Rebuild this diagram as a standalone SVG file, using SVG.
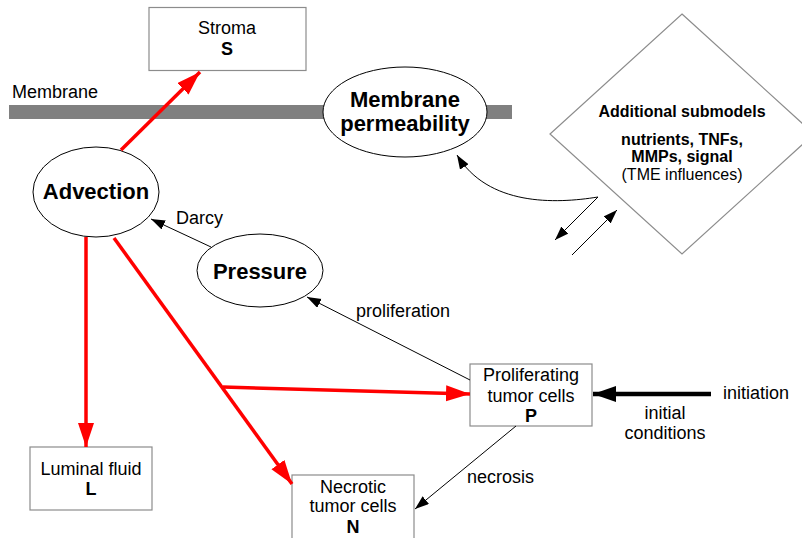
<svg xmlns="http://www.w3.org/2000/svg" width="802" height="538" viewBox="0 0 802 538">
<style>
text{font-family:"Liberation Sans",Arial,sans-serif;fill:#000}
.t{font-size:18px}
.b{font-weight:bold}
.big{font-size:22px;font-weight:bold}
.box{fill:#fff;stroke:#8c8c8c;stroke-width:1.2}
.ell{fill:#fff;stroke:#000;stroke-width:1}
.red{stroke:#ff0000;stroke-width:3.5;fill:none}
.thin{stroke:#000;stroke-width:1;fill:none}
</style>
<defs>
<marker id="ar" markerUnits="userSpaceOnUse" markerWidth="26" markerHeight="18" refX="24" refY="8" orient="auto">
<path d="M0,0 L24,8 L0,16 z" fill="#ff0000"/>
</marker>
<marker id="ab" markerUnits="userSpaceOnUse" markerWidth="26" markerHeight="18" refX="23" refY="8" orient="auto">
<path d="M0,0 L23,8 L0,16 z" fill="#000"/>
</marker>
<marker id="as" markerUnits="userSpaceOnUse" markerWidth="16" markerHeight="12" refX="14" refY="5" orient="auto">
<path d="M0,0 L14,5 L0,10 z" fill="#000"/>
</marker>
</defs>

<g id="membrane">
<rect x="9" y="105" width="503" height="14" fill="#808080"/>
<text class="t" x="12" y="98">Membrane</text>
</g>

<g id="additional-submodels">
<polygon points="682,14 814,134 682,254 550,134" fill="#fff" stroke="#8c8c8c" stroke-width="1.2"/>
<text x="682" y="117" text-anchor="middle" font-size="16" class="b">Additional submodels</text>
<text x="682" y="145" text-anchor="middle" font-size="16" class="b">nutrients, TNFs,</text>
<text x="682" y="162" text-anchor="middle" font-size="16" class="b">MMPs, signal</text>
<text x="682" y="180" text-anchor="middle" font-size="16">(TME influences)</text>
</g>

<g id="stroma">
<rect class="box" x="149" y="7.5" width="157" height="63"/>
<text class="t" x="227" y="34" text-anchor="middle">Stroma</text>
<text class="t b" x="227" y="55" text-anchor="middle">S</text>
</g>

<g id="membrane-permeability">
<ellipse class="ell" cx="405" cy="112" rx="82" ry="45"/>
<text class="big" x="405" y="107" text-anchor="middle">Membrane</text>
<text class="big" x="405" y="131" text-anchor="middle">permeability</text>
</g>

<g id="advection">
<ellipse class="ell" cx="96" cy="192" rx="63" ry="45"/>
<text class="big" x="96" y="199" text-anchor="middle">Advection</text>
</g>

<g id="pressure">
<ellipse class="ell" cx="260" cy="270.5" rx="63" ry="36.5"/>
<text class="big" x="260" y="279" text-anchor="middle">Pressure</text>
</g>

<g id="proliferating">
<rect class="box" x="470" y="364" width="122" height="62"/>
<text class="t" x="531" y="381" text-anchor="middle">Proliferating</text>
<text class="t" x="531" y="402" text-anchor="middle">tumor cells</text>
<text class="t b" x="531" y="422" text-anchor="middle">P</text>
</g>

<g id="luminal">
<rect class="box" x="30" y="447" width="122" height="63"/>
<text class="t" x="91" y="475" text-anchor="middle">Luminal fluid</text>
<text class="t b" x="91" y="495" text-anchor="middle">L</text>
</g>

<g id="necrotic">
<rect class="box" x="292" y="475" width="122" height="70"/>
<text class="t" x="353" y="493" text-anchor="middle">Necrotic</text>
<text class="t" x="353" y="512" text-anchor="middle">tumor cells</text>
<text class="t b" x="353" y="533" text-anchor="middle">N</text>
</g>

<g id="connectors">
<line class="red" x1="121" y1="150" x2="200" y2="72" marker-end="url(#ar)"/>
<line class="red" x1="86" y1="237" x2="86" y2="447" marker-end="url(#ar)"/>
<line class="red" x1="114" y1="238" x2="292" y2="484" marker-end="url(#ar)"/>
<line class="red" x1="223" y1="387" x2="470" y2="394" marker-end="url(#ar)"/>
<line class="thin" x1="211" y1="247" x2="151" y2="219" marker-end="url(#as)"/>
<line class="thin" x1="470" y1="380" x2="307" y2="297" marker-end="url(#as)"/>
<line class="thin" x1="516" y1="426" x2="415" y2="509" marker-end="url(#as)"/>
<line x1="711" y1="394" x2="593" y2="394" stroke="#000" stroke-width="4.5" marker-end="url(#ab)"/>
<path class="thin" d="M598,197 C555,204 488,206 457,155" marker-end="url(#as)"/>
<line class="thin" x1="598" y1="197" x2="555" y2="240" marker-end="url(#as)"/>
<line class="thin" x1="572" y1="255" x2="617" y2="210" marker-end="url(#as)"/>
<text class="t" x="176" y="224">Darcy</text>
<text class="t" x="356" y="317">proliferation</text>
<text class="t" x="467" y="483">necrosis</text>
<text class="t" x="723" y="399">initiation</text>
<text class="t" x="665" y="419" text-anchor="middle">initial</text>
<text class="t" x="665" y="439" text-anchor="middle">conditions</text>
</g>
</svg>
